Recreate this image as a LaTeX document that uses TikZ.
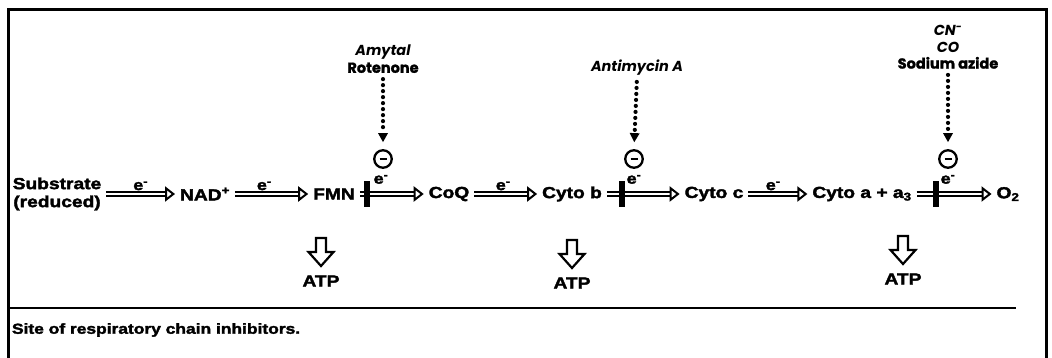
\documentclass[tikz,border=0pt]{standalone}
\usepackage{fontspec}
\setmainfont{Liberation Sans}[BoldFeatures={FakeBold=2.2,FakeStretch=1.2}]
\newfontfamily\geofont{Poppins}[BoldFeatures={FakeBold=1.5}]
\usetikzlibrary{arrows.meta,calc}
\begin{document}
\begin{tikzpicture}[x=1pt,y=-1pt,
  chem/.style={font=\fontsize{16}{18}\selectfont\bfseries, inner sep=0pt, outer sep=5pt, align=center},
  earrow/.style={line width=1.5pt, double distance=2.6pt, -{Triangle[open, length=10pt, width=15pt, line width=2pt]}},
  elab/.style={font=\fontsize{15}{16}\selectfont\bfseries, inner sep=1pt, above=2pt},
  blockbar/.style={fill=black, minimum width=6pt, minimum height=26pt, inner sep=0pt},
  inhib/.style={circle, draw, line width=2.3pt, minimum size=17.5pt, inner sep=0pt,
    path picture={\draw[line width=2.8pt] ([xshift=-3.5pt]path picture bounding box.center) -- ([xshift=3.5pt]path picture bounding box.center);}},
  inhlab/.style={font=\geofont\fontsize{14.5}{17}\selectfont\bfseries, align=center, inner sep=1pt},
  dotarrow/.style={line width=4.2pt, line cap=round, dash pattern=on 0pt off 6pt,
    -{Triangle[length=9pt,width=10pt,line width=0pt]}, shorten >=7pt, shorten <=5pt},
  atpbox/.style={font=\fontsize{16}{18}\selectfont\bfseries, inner sep=0pt, outer sep=0pt},
  atparrow/.style={line width=2.2pt, line join=miter,
    to path={let \p1=(\tikztostart), \p2=(\tikztotarget) in
      (\x2-5pt,\y2+43pt) -- (\x2-5pt,\y2+29pt) -- (\x2-12.5pt,\y2+29pt) -- (\x2,\y2+15pt)
      -- (\x2+12.5pt,\y2+29pt) -- (\x2+5pt,\y2+29pt) -- (\x2+5pt,\y2+43pt) -- cycle}},
  frame/.style={line width=3pt},
  sep/.style={line width=2.5pt}
]
\useasboundingbox (0,0) rectangle (1052,358);
% frame
\draw[frame] (8,358) -- (8,10) -- (1046,10) -- (1046,358);
\draw[sep] (8,308) -- (1016,308);

% chain
\node[chem] (sub)  at (57,194)  {Substrate\\(reduced)};
\node[chem] (nad)  at (205,194) {NAD\textsuperscript{+}};
\node[chem] (fmn)  at (334,194) {FMN};
\node[chem] (coq)  at (449,194) {CoQ};
\node[chem] (cytb) at (572,194) {Cyto b};
\node[chem] (cytc) at (714,194) {Cyto c};
\node[chem] (cyta) at (862,194) {Cyto a + a\textsubscript{3}};
\node[chem] (o2)   at (1008,194) {O\textsubscript{2}};

\draw[earrow] (sub)  -- node[elab, pos=0.5]  (e1) {e\textsuperscript{-}} (nad);
\draw[earrow] (nad)  -- node[elab, pos=0.4]  (e2) {e\textsuperscript{-}} (fmn);
\draw[earrow] (fmn)  -- (coq);
\draw[earrow] (coq)  -- node[elab, pos=0.46] (e4) {e\textsuperscript{-}} (cytb);
\draw[earrow] (cytb) -- (cytc);
\draw[earrow] (cytc) -- node[elab, pos=0.42] (e6) {e\textsuperscript{-}} (cyta);
\draw[earrow] (cyta) -- (o2);

% blocks
\node[blockbar] (bar1) at (367,194) {};
\node[blockbar] (bar2) at (622,194) {};
\node[blockbar] (bar3) at (936,194) {};
\node[elab, above=0pt] (e3) at (381,187) {e\textsuperscript{-}};
\node[elab, above=0pt] (e5) at (634,187) {e\textsuperscript{-}};
\node[elab, above=0pt] (e7) at (948,187) {e\textsuperscript{-}};

% inhibitor circles
\node[inhib] (c1) at (383,159) {};
\node[inhib] (c2) at (634,159) {};
\node[inhib] (c3) at (948,159) {};

% inhibitor labels
\node[inhlab] (inh1) at (383,59) {\itshape Amytal\\Rotenone};
\node[inhlab] (inh2) at (637,68) {\itshape Antimycin A};
\node[inhlab, font=\geofont\fontsize{14.5}{16.5}\selectfont\bfseries] (inh3) at (948,47) {\itshape CN\textsuperscript{-}\\\itshape CO\\Sodium azide};

\draw[dotarrow] (inh1.south) -- (c1.north);
\draw[dotarrow] (inh2.south) -- (c2.north);
\draw[dotarrow] (inh3.south) -- (c3.north);

% ATP
\node[atpbox] (atp1) at (321,281) {ATP};
\node[atpbox] (atp2) at (572,283) {ATP};
\node[atpbox] (atp3) at (903,279) {ATP};
\draw[atparrow] (fmn) to (atp1);
\draw[atparrow] (cytb) to (atp2);
\draw[atparrow] (cyta) to (atp3);

% caption
\node[chem, font=\fontsize{14.5}{16}\selectfont\bfseries, anchor=west, outer sep=0pt] (cap) at (12,330) {Site of respiratory chain inhibitors.};
\end{tikzpicture}
\end{document}
